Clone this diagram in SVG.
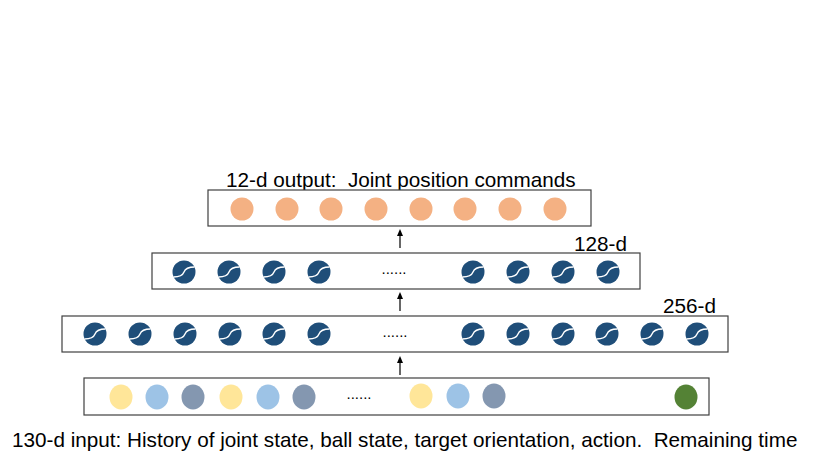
<svg xmlns="http://www.w3.org/2000/svg" xmlns:xlink="http://www.w3.org/1999/xlink" width="830" height="467" viewBox="0 0 830 467">
<style>
.box{fill:#fff;stroke:#404040;stroke-width:1.2}
.lbl{font-family:"Liberation Sans",Arial,sans-serif;font-size:20.7px;fill:#000;white-space:pre}
.dots{font-family:"Liberation Sans",Arial,sans-serif;font-size:15px;fill:#000;text-anchor:middle}
.out{fill:#F4B183}
.y{fill:#FFE699}.b{fill:#9DC3E6}.g{fill:#8497B0}.gr{fill:#548235}
.conn{stroke:#000;stroke-width:1.2;fill:none}
.head{fill:#000}
</style>
<defs>
<g id="sig">
<circle r="11.5" fill="#1F4E79"/>
<path d="M-10.5,5 C-5,5 -1.5,4 0,0 S5,-5 10.5,-5" stroke="#fff" stroke-width="1.4" fill="none"/>
</g>
<path id="ah" d="M0,0 L3,7 L-3,7 Z"/>
</defs>
<rect width="830" height="467" fill="#fff"/>

<g id="output-layer">
<text class="lbl" x="226" y="187" xml:space="preserve">12-d output:  Joint position commands</text>
<rect class="box" x="208" y="190" width="383" height="36"/>
<circle class="out" cx="242" cy="209" r="11.5"/>
<circle class="out" cx="287" cy="209" r="11.5"/>
<circle class="out" cx="331" cy="209" r="11.5"/>
<circle class="out" cx="376" cy="209" r="11.5"/>
<circle class="out" cx="421" cy="209" r="11.5"/>
<circle class="out" cx="465" cy="209" r="11.5"/>
<circle class="out" cx="510" cy="209" r="11.5"/>
<circle class="out" cx="555" cy="209" r="11.5"/>
</g>

<g id="hidden-128">
<text class="lbl" x="574" y="251">128-d</text>
<rect class="box" x="152" y="253" width="488" height="36"/>
<use xlink:href="#sig" x="184" y="272"/>
<use xlink:href="#sig" x="229" y="272"/>
<use xlink:href="#sig" x="274" y="272"/>
<use xlink:href="#sig" x="319" y="272"/>
<text class="dots" x="394" y="274">......</text>
<use xlink:href="#sig" x="473" y="272"/>
<use xlink:href="#sig" x="518" y="272"/>
<use xlink:href="#sig" x="563" y="272"/>
<use xlink:href="#sig" x="608" y="272"/>
</g>

<g id="hidden-256">
<text class="lbl" x="663" y="313">256-d</text>
<rect class="box" x="62" y="316" width="666" height="36"/>
<use xlink:href="#sig" x="95" y="334"/>
<use xlink:href="#sig" x="140" y="334"/>
<use xlink:href="#sig" x="185" y="334"/>
<use xlink:href="#sig" x="230" y="334"/>
<use xlink:href="#sig" x="274" y="334"/>
<use xlink:href="#sig" x="319" y="334"/>
<text class="dots" x="395" y="337">......</text>
<use xlink:href="#sig" x="473" y="334"/>
<use xlink:href="#sig" x="518" y="334"/>
<use xlink:href="#sig" x="563" y="334"/>
<use xlink:href="#sig" x="607" y="334"/>
<use xlink:href="#sig" x="652" y="334"/>
<use xlink:href="#sig" x="697" y="334"/>
</g>

<g id="input-layer">
<rect class="box" x="84" y="378" width="625" height="37"/>
<ellipse class="y" cx="121" cy="397" rx="11.5" ry="12.5"/>
<ellipse class="b" cx="157" cy="397" rx="11.5" ry="12.5"/>
<ellipse class="g" cx="193" cy="397" rx="11.5" ry="12.5"/>
<ellipse class="y" cx="231" cy="397" rx="11.5" ry="12.5"/>
<ellipse class="b" cx="268" cy="397" rx="11.5" ry="12.5"/>
<ellipse class="g" cx="304" cy="397" rx="11.5" ry="12.5"/>
<text class="dots" x="359" y="399">......</text>
<ellipse class="y" cx="421" cy="396" rx="11.5" ry="12.5"/>
<ellipse class="b" cx="458" cy="396" rx="11.5" ry="12.5"/>
<ellipse class="g" cx="494" cy="396" rx="11.5" ry="12.5"/>
<ellipse class="gr" cx="686" cy="397" rx="11.5" ry="12.5"/>
<text class="lbl" x="12" y="447" xml:space="preserve">130-d input: History of joint state, ball state, target orientation, action.  Remaining time</text>
</g>

<g id="connectors">
<line class="conn" x1="400" y1="248" x2="400" y2="235"/>
<use class="head" xlink:href="#ah" x="400" y="229"/>
<line class="conn" x1="400" y1="311" x2="400" y2="298"/>
<use class="head" xlink:href="#ah" x="400" y="292"/>
<line class="conn" x1="400" y1="375" x2="400" y2="362"/>
<use class="head" xlink:href="#ah" x="400" y="356"/>
</g>
</svg>
